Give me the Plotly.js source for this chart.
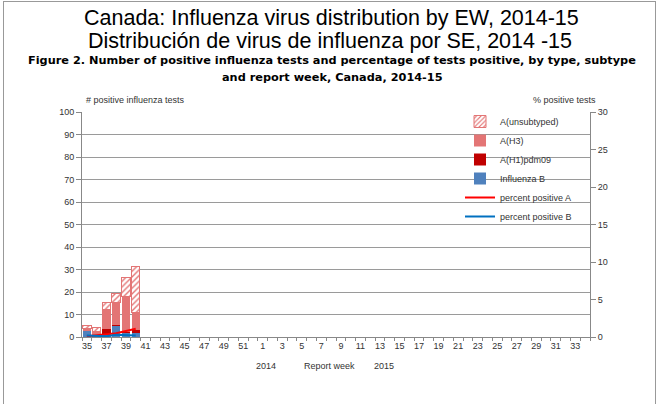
<!DOCTYPE html>
<html><head><meta charset="utf-8">
<script src="https://cdn.plot.ly/plotly-3.0.1.min.js"></script>
<style>html,body{margin:0;padding:0;background:#fff}
#frame{position:absolute;left:0;top:0;width:658px;height:404px;}
#chart{width:658px;height:404px;}
#border{position:absolute;left:3px;top:1px;width:651px;height:410px;border:1px solid #999;pointer-events:none;}
</style></head>
<body><div id="frame"><div id="chart"></div><div id="border"></div></div>
<script>
const weeks = ["35","36","37","38","39","40","41","42","43","44","45","46","47","48","49","50","51","52",
  "1","2","3","4","5","6","7","8","9","10","11","12","13","14","15","16","17","18","19","20","21","22","23","24","25","26","27","28","29","30","31","32","33","34"];
const dataWeeks = ["35","36","37","38","39","40"];
const fluB = [2.8, 1.0, 1.3, 5.0, 1.8, 2.0];
const aH1 = [0.0, 0.0, 2.4, 0.3, 0.3, 1.0];
const aH3 = [0.9, 1.3, 8.5, 10.2, 16.0, 8.1];
const aUnsub = [1.5, 1.8, 3.0, 3.8, 8.2, 20.3];
const pctA = [0.1, 0.2, 0.4, 0.5, 0.8, 1.1];
const pctB = [0.2, 0.1, 0.1, 0.3, 0.2, 0.2];

const xi = dataWeeks.map(w => weeks.indexOf(w));
const tickIdx = weeks.map((w,i)=>i).filter(i=>i%2===0);
const tickTxt = tickIdx.map(i=>weeks[i]);

const traces = [
  {type:'bar', x:xi, y:fluB, name:'Influenza B', marker:{color:'#4F81BD'}, legendrank:4},
  {type:'bar', x:xi, y:aH1, name:'A(H1)pdm09', marker:{color:'#C00000'}, legendrank:3},
  {type:'bar', x:xi, y:aH3, name:'A(H3)', marker:{color:'#E37575'}, legendrank:2},
  {type:'bar', x:xi, y:aUnsub, name:'A(unsubtyped)', marker:{color:'#ffffff', line:{color:'#E37575',width:1},
     pattern:{shape:'/', fgcolor:'#E37575', bgcolor:'#ffffff', size:4, solidity:0.35}}, legendrank:1},
  {type:'scatter', mode:'lines', x:xi, y:pctA, yaxis:'y2', name:'percent positive A', line:{color:'#FF0000', width:2}, legendrank:5},
  {type:'scatter', mode:'lines', x:xi, y:pctB, yaxis:'y2', name:'percent positive B', line:{color:'#0070C0', width:2}, legendrank:6}
];

const tf = {family:'Liberation Sans, Arial, sans-serif', size:9, color:'#333'};
const L = 82, R = 590, T = 112, B = 337;
const W = R - L;
const layout = {
  width:658, height:404,
  margin:{l:L, r:658-R, t:T, b:404-B},
  paper_bgcolor:'#fff', plot_bgcolor:'#fff',
  barmode:'stack', bargap:0.14,
  showlegend:true,
  legend:{x:(460-L)/W, y:(B-107)/(B-T), xanchor:'left', yanchor:'top', bgcolor:'rgba(0,0,0,0)',
    font:{family:'Liberation Sans, Arial, sans-serif', size:9, color:'#333'}, tracegroupgap:0, itemwidth:30,
    traceorder:'normal'},
  xaxis:{range:[-0.5, weeks.length-0.5], tickmode:'array', tickvals:tickIdx, ticktext:tickTxt,
    ticks:'', showgrid:false, zeroline:false, showline:true, linecolor:'#888', tickfont:tf,
    minor:{ticks:'outside', tick0:0.5, dtick:1, ticklen:3, tickcolor:'#888', showgrid:false}},
  yaxis:{range:[0,100], dtick:10, ticks:'outside', ticklen:5, tickcolor:'#888', showline:true, linecolor:'#888',
    gridcolor:'#9a9a9a', gridwidth:1, zeroline:false, tickfont:tf},
  yaxis2:{range:[0,30], dtick:5, overlaying:'y', side:'right', ticks:'outside', ticklen:5, tickcolor:'#888',
    showline:true, linecolor:'#888', showgrid:false, zeroline:false, tickfont:tf},
  annotations:[
    {text:'Canada: Influenza virus distribution by EW, 2014-15', xref:'paper', yref:'paper', x:(331-L)/W, y:1.0, xanchor:'center', yanchor:'middle',
      yshift:(T-18), showarrow:false, font:{family:'Liberation Sans, Arial, sans-serif', size:21.5, color:'#000'}},
    {text:'Distribución de virus de influenza por SE, 2014 -15', xref:'paper', yref:'paper', x:(330-L)/W, y:1.0, xanchor:'center', yanchor:'middle',
      yshift:(T-41), showarrow:false, font:{family:'Liberation Sans, Arial, sans-serif', size:21.5, color:'#000'}},
    {text:'<b>Figure 2. Number of positive influenza tests and percentage of tests positive, by type, subtype</b>', xref:'paper', yref:'paper', x:(332-L)/W, y:1.0, xanchor:'center', yanchor:'middle',
      yshift:(T-60), showarrow:false, font:{family:'DejaVu Sans, Verdana, sans-serif', size:11.3, color:'#000'}},
    {text:'<b>and report week, Canada, 2014-15</b>', xref:'paper', yref:'paper', x:(332-L)/W, y:1.0, xanchor:'center', yanchor:'middle',
      yshift:(T-77), showarrow:false, font:{family:'DejaVu Sans, Verdana, sans-serif', size:11.3, color:'#000'}},
    {text:'# positive influenza tests', xref:'paper', yref:'paper', x:0, y:1, xanchor:'left', yanchor:'middle', xshift:2, yshift:12,
      showarrow:false, font:{family:'Liberation Sans, Arial, sans-serif', size:9, color:'#333'}},
    {text:'% positive tests', xref:'paper', yref:'paper', x:1, y:1, xanchor:'right', yanchor:'middle', xshift:8, yshift:12,
      showarrow:false, font:{family:'Liberation Sans, Arial, sans-serif', size:9, color:'#333'}},
    {text:'2014', xref:'paper', yref:'paper', x:(266-L)/W, y:0, xanchor:'center', yanchor:'middle', yshift:-(366-B),
      showarrow:false, font:tf},
    {text:'Report week', xref:'paper', yref:'paper', x:(329-L)/W, y:0, xanchor:'center', yanchor:'middle', yshift:-(366-B),
      showarrow:false, font:tf},
    {text:'2015', xref:'paper', yref:'paper', x:(384-L)/W, y:0, xanchor:'center', yanchor:'middle', yshift:-(366-B),
      showarrow:false, font:tf}
  ]
};
Plotly.newPlot('chart', traces, layout, {displayModeBar:false, staticPlot:true});
</script></body></html>
